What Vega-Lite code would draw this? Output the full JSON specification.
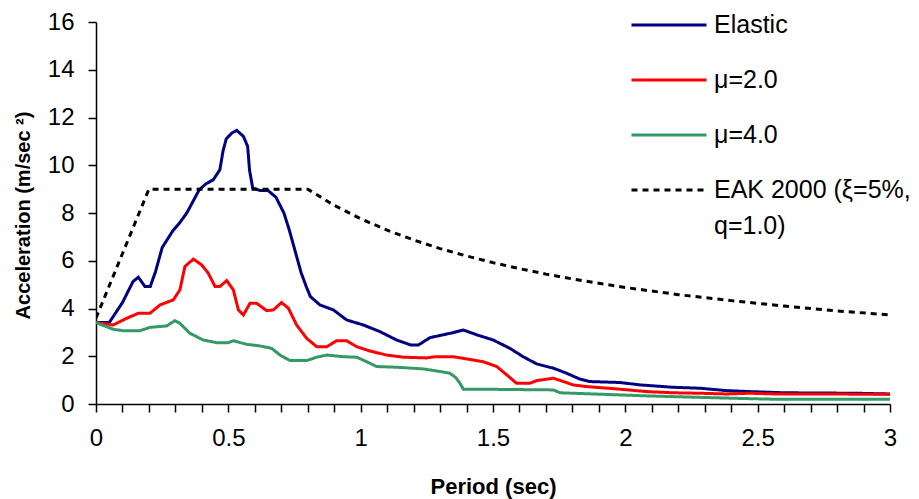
{
  "$schema": "https://vega.github.io/schema/vega-lite/v6.json",
  "width": 794,
  "height": 382,
  "autosize": {"type": "none"},
  "padding": {"left": 96, "top": 22, "right": 29, "bottom": 95},
  "background": "white",
  "config": {
    "view": {"stroke": null},
    "font": "Liberation Sans, Arial, sans-serif",
    "axis": {"domainColor": "black", "tickColor": "black", "labelColor": "black", "titleColor": "black", "grid": false, "domainWidth": 1.5, "tickWidth": 1.5}
  },
  "data": {"values": [
    {"s": "Elastic", "T": 0, "A": 3.41}, {"s": "Elastic", "T": 0.05, "A": 3.41}, {"s": "Elastic", "T": 0.1, "A": 4.25},
    {"s": "Elastic", "T": 0.14, "A": 5.13}, {"s": "Elastic", "T": 0.16, "A": 5.31}, {"s": "Elastic", "T": 0.185, "A": 4.92},
    {"s": "Elastic", "T": 0.205, "A": 4.92}, {"s": "Elastic", "T": 0.225, "A": 5.55}, {"s": "Elastic", "T": 0.25, "A": 6.55},
    {"s": "Elastic", "T": 0.29, "A": 7.25}, {"s": "Elastic", "T": 0.317, "A": 7.6}, {"s": "Elastic", "T": 0.343, "A": 8.0},
    {"s": "Elastic", "T": 0.39, "A": 8.97}, {"s": "Elastic", "T": 0.415, "A": 9.22}, {"s": "Elastic", "T": 0.443, "A": 9.39},
    {"s": "Elastic", "T": 0.468, "A": 9.81}, {"s": "Elastic", "T": 0.48, "A": 10.6}, {"s": "Elastic", "T": 0.492, "A": 11.1},
    {"s": "Elastic", "T": 0.513, "A": 11.35}, {"s": "Elastic", "T": 0.532, "A": 11.46}, {"s": "Elastic", "T": 0.557, "A": 11.21},
    {"s": "Elastic", "T": 0.573, "A": 10.79}, {"s": "Elastic", "T": 0.58, "A": 9.8}, {"s": "Elastic", "T": 0.592, "A": 9.05},
    {"s": "Elastic", "T": 0.62, "A": 8.94}, {"s": "Elastic", "T": 0.65, "A": 8.94}, {"s": "Elastic", "T": 0.68, "A": 8.66},
    {"s": "Elastic", "T": 0.71, "A": 8.0}, {"s": "Elastic", "T": 0.73, "A": 7.3}, {"s": "Elastic", "T": 0.755, "A": 6.3},
    {"s": "Elastic", "T": 0.775, "A": 5.5}, {"s": "Elastic", "T": 0.795, "A": 4.9}, {"s": "Elastic", "T": 0.81, "A": 4.5},
    {"s": "Elastic", "T": 0.846, "A": 4.15}, {"s": "Elastic", "T": 0.897, "A": 3.94}, {"s": "Elastic", "T": 0.947, "A": 3.52},
    {"s": "Elastic", "T": 1.01, "A": 3.31}, {"s": "Elastic", "T": 1.073, "A": 3.03}, {"s": "Elastic", "T": 1.136, "A": 2.68},
    {"s": "Elastic", "T": 1.19, "A": 2.47}, {"s": "Elastic", "T": 1.218, "A": 2.47}, {"s": "Elastic", "T": 1.262, "A": 2.78},
    {"s": "Elastic", "T": 1.3, "A": 2.87}, {"s": "Elastic", "T": 1.35, "A": 2.99}, {"s": "Elastic", "T": 1.388, "A": 3.1},
    {"s": "Elastic", "T": 1.438, "A": 2.9}, {"s": "Elastic", "T": 1.501, "A": 2.68}, {"s": "Elastic", "T": 1.564, "A": 2.33},
    {"s": "Elastic", "T": 1.614, "A": 1.98}, {"s": "Elastic", "T": 1.665, "A": 1.68}, {"s": "Elastic", "T": 1.728, "A": 1.5},
    {"s": "Elastic", "T": 1.778, "A": 1.29}, {"s": "Elastic", "T": 1.829, "A": 1.04}, {"s": "Elastic", "T": 1.866, "A": 0.94},
    {"s": "Elastic", "T": 1.98, "A": 0.9}, {"s": "Elastic", "T": 2.055, "A": 0.8}, {"s": "Elastic", "T": 2.18, "A": 0.7},
    {"s": "Elastic", "T": 2.282, "A": 0.66}, {"s": "Elastic", "T": 2.383, "A": 0.56}, {"s": "Elastic", "T": 2.47, "A": 0.52},
    {"s": "Elastic", "T": 2.6, "A": 0.47}, {"s": "Elastic", "T": 2.874, "A": 0.45}, {"s": "Elastic", "T": 3.0, "A": 0.42},

    {"s": "μ=2.0", "T": 0, "A": 3.41}, {"s": "μ=2.0", "T": 0.065, "A": 3.31}, {"s": "μ=2.0", "T": 0.116, "A": 3.59},
    {"s": "μ=2.0", "T": 0.16, "A": 3.8}, {"s": "μ=2.0", "T": 0.204, "A": 3.8}, {"s": "μ=2.0", "T": 0.242, "A": 4.15},
    {"s": "μ=2.0", "T": 0.292, "A": 4.36}, {"s": "μ=2.0", "T": 0.317, "A": 4.78}, {"s": "μ=2.0", "T": 0.336, "A": 5.76},
    {"s": "μ=2.0", "T": 0.368, "A": 6.07}, {"s": "μ=2.0", "T": 0.399, "A": 5.83}, {"s": "μ=2.0", "T": 0.424, "A": 5.48},
    {"s": "μ=2.0", "T": 0.45, "A": 4.92}, {"s": "μ=2.0", "T": 0.468, "A": 4.92}, {"s": "μ=2.0", "T": 0.494, "A": 5.17},
    {"s": "μ=2.0", "T": 0.519, "A": 4.78}, {"s": "μ=2.0", "T": 0.538, "A": 3.94}, {"s": "μ=2.0", "T": 0.557, "A": 3.73},
    {"s": "μ=2.0", "T": 0.582, "A": 4.22}, {"s": "μ=2.0", "T": 0.607, "A": 4.22}, {"s": "μ=2.0", "T": 0.645, "A": 3.91},
    {"s": "μ=2.0", "T": 0.67, "A": 3.94}, {"s": "μ=2.0", "T": 0.701, "A": 4.25}, {"s": "μ=2.0", "T": 0.727, "A": 4.01},
    {"s": "μ=2.0", "T": 0.758, "A": 3.31}, {"s": "μ=2.0", "T": 0.796, "A": 2.75}, {"s": "μ=2.0", "T": 0.834, "A": 2.4},
    {"s": "μ=2.0", "T": 0.872, "A": 2.4}, {"s": "μ=2.0", "T": 0.909, "A": 2.65}, {"s": "μ=2.0", "T": 0.947, "A": 2.65},
    {"s": "μ=2.0", "T": 0.985, "A": 2.4}, {"s": "μ=2.0", "T": 1.035, "A": 2.22}, {"s": "μ=2.0", "T": 1.098, "A": 2.05},
    {"s": "μ=2.0", "T": 1.161, "A": 1.96}, {"s": "μ=2.0", "T": 1.249, "A": 1.93}, {"s": "μ=2.0", "T": 1.28, "A": 1.98},
    {"s": "μ=2.0", "T": 1.35, "A": 1.98}, {"s": "μ=2.0", "T": 1.4, "A": 1.89}, {"s": "μ=2.0", "T": 1.463, "A": 1.77},
    {"s": "μ=2.0", "T": 1.514, "A": 1.57}, {"s": "μ=2.0", "T": 1.552, "A": 1.22}, {"s": "μ=2.0", "T": 1.589, "A": 0.87},
    {"s": "μ=2.0", "T": 1.64, "A": 0.87}, {"s": "μ=2.0", "T": 1.665, "A": 0.98}, {"s": "μ=2.0", "T": 1.728, "A": 1.08},
    {"s": "μ=2.0", "T": 1.766, "A": 0.94}, {"s": "μ=2.0", "T": 1.803, "A": 0.8}, {"s": "μ=2.0", "T": 1.854, "A": 0.73},
    {"s": "μ=2.0", "T": 1.98, "A": 0.62}, {"s": "μ=2.0", "T": 2.08, "A": 0.52}, {"s": "μ=2.0", "T": 2.18, "A": 0.47},
    {"s": "μ=2.0", "T": 2.282, "A": 0.45}, {"s": "μ=2.0", "T": 2.383, "A": 0.42}, {"s": "μ=2.0", "T": 2.47, "A": 0.45},
    {"s": "μ=2.0", "T": 2.57, "A": 0.42}, {"s": "μ=2.0", "T": 3.0, "A": 0.41},

    {"s": "μ=4.0", "T": 0, "A": 3.41}, {"s": "μ=4.0", "T": 0.065, "A": 3.13}, {"s": "μ=4.0", "T": 0.103, "A": 3.07},
    {"s": "μ=4.0", "T": 0.166, "A": 3.07}, {"s": "μ=4.0", "T": 0.204, "A": 3.21}, {"s": "μ=4.0", "T": 0.267, "A": 3.27},
    {"s": "μ=4.0", "T": 0.298, "A": 3.49}, {"s": "μ=4.0", "T": 0.317, "A": 3.38}, {"s": "μ=4.0", "T": 0.355, "A": 2.96},
    {"s": "μ=4.0", "T": 0.405, "A": 2.68}, {"s": "μ=4.0", "T": 0.456, "A": 2.57}, {"s": "μ=4.0", "T": 0.5, "A": 2.57},
    {"s": "μ=4.0", "T": 0.519, "A": 2.65}, {"s": "μ=4.0", "T": 0.569, "A": 2.5}, {"s": "μ=4.0", "T": 0.62, "A": 2.43},
    {"s": "μ=4.0", "T": 0.664, "A": 2.33}, {"s": "μ=4.0", "T": 0.695, "A": 2.05}, {"s": "μ=4.0", "T": 0.733, "A": 1.82},
    {"s": "μ=4.0", "T": 0.796, "A": 1.82}, {"s": "μ=4.0", "T": 0.834, "A": 1.96}, {"s": "μ=4.0", "T": 0.872, "A": 2.05},
    {"s": "μ=4.0", "T": 0.934, "A": 1.98}, {"s": "μ=4.0", "T": 0.985, "A": 1.96}, {"s": "μ=4.0", "T": 1.023, "A": 1.77},
    {"s": "μ=4.0", "T": 1.06, "A": 1.57}, {"s": "μ=4.0", "T": 1.136, "A": 1.54}, {"s": "μ=4.0", "T": 1.237, "A": 1.47},
    {"s": "μ=4.0", "T": 1.3, "A": 1.36}, {"s": "μ=4.0", "T": 1.337, "A": 1.29}, {"s": "μ=4.0", "T": 1.36, "A": 1.1},
    {"s": "μ=4.0", "T": 1.375, "A": 0.87}, {"s": "μ=4.0", "T": 1.388, "A": 0.62}, {"s": "μ=4.0", "T": 1.451, "A": 0.62},
    {"s": "μ=4.0", "T": 1.728, "A": 0.59}, {"s": "μ=4.0", "T": 1.753, "A": 0.47}, {"s": "μ=4.0", "T": 1.879, "A": 0.42},
    {"s": "μ=4.0", "T": 2.08, "A": 0.34}, {"s": "μ=4.0", "T": 2.41, "A": 0.24}, {"s": "μ=4.0", "T": 2.56, "A": 0.2},
    {"s": "μ=4.0", "T": 3.0, "A": 0.2},

    {"s": "EAK 2000 (ξ=5%, q=1.0)", "T": 0, "A": 3.6}, {"s": "EAK 2000 (ξ=5%, q=1.0)", "T": 0.2, "A": 9.0},
    {"s": "EAK 2000 (ξ=5%, q=1.0)", "T": 0.8, "A": 9.0}, {"s": "EAK 2000 (ξ=5%, q=1.0)", "T": 0.9, "A": 8.32},
    {"s": "EAK 2000 (ξ=5%, q=1.0)", "T": 1.0, "A": 7.76}, {"s": "EAK 2000 (ξ=5%, q=1.0)", "T": 1.1, "A": 7.28},
    {"s": "EAK 2000 (ξ=5%, q=1.0)", "T": 1.2, "A": 6.87}, {"s": "EAK 2000 (ξ=5%, q=1.0)", "T": 1.3, "A": 6.51},
    {"s": "EAK 2000 (ξ=5%, q=1.0)", "T": 1.4, "A": 6.2}, {"s": "EAK 2000 (ξ=5%, q=1.0)", "T": 1.5, "A": 5.92},
    {"s": "EAK 2000 (ξ=5%, q=1.0)", "T": 1.6, "A": 5.67}, {"s": "EAK 2000 (ξ=5%, q=1.0)", "T": 1.7, "A": 5.44},
    {"s": "EAK 2000 (ξ=5%, q=1.0)", "T": 1.8, "A": 5.24}, {"s": "EAK 2000 (ξ=5%, q=1.0)", "T": 1.9, "A": 5.06},
    {"s": "EAK 2000 (ξ=5%, q=1.0)", "T": 2.0, "A": 4.88}, {"s": "EAK 2000 (ξ=5%, q=1.0)", "T": 2.2, "A": 4.58},
    {"s": "EAK 2000 (ξ=5%, q=1.0)", "T": 2.4, "A": 4.33}, {"s": "EAK 2000 (ξ=5%, q=1.0)", "T": 2.6, "A": 4.1},
    {"s": "EAK 2000 (ξ=5%, q=1.0)", "T": 2.8, "A": 3.9}, {"s": "EAK 2000 (ξ=5%, q=1.0)", "T": 3.0, "A": 3.73}
  ]},
  "mark": {"type": "line", "clip": true},
  "encoding": {
    "x": {
      "field": "T", "type": "quantitative",
      "scale": {"domain": [0, 3], "nice": false, "zero": false},
      "axis": {
        "title": "Period (sec)",
        "titleFontSize": 22, "titleFontWeight": "bold",
        "titleX": 397, "titleY": 82, "titleAlign": "center", "titleBaseline": "middle",
        "values": [0, 0.1, 0.2, 0.3, 0.4, 0.5, 0.6, 0.7, 0.8, 0.9, 1, 1.1, 1.2, 1.3, 1.4, 1.5, 1.6, 1.7, 1.8, 1.9, 2, 2.1, 2.2, 2.3, 2.4, 2.5, 2.6, 2.7, 2.8, 2.9, 3],
        "labelExpr": "abs(datum.value * 2 - round(datum.value * 2)) < 0.01 ? format(datum.value, '~g') : ''",
        "labelFontSize": 24, "labelPadding": 14, "tickSize": 8,
        "labelOverlap": false, "labelFlush": false,
        "encode": {
          "ticks": {"update": {
            "y": {"signal": "abs(datum.value * 2 - round(datum.value * 2)) < 0.01 ? -1 : -5"},
            "y2": {"signal": "abs(datum.value * 2 - round(datum.value * 2)) < 0.01 ? 9 : 0"}
          }}
        }
      }
    },
    "y": {
      "field": "A", "type": "quantitative",
      "scale": {"domain": [0, 16], "nice": false},
      "axis": {
        "title": "Acceleration (m/sec ²)",
        "titleFontSize": 20, "titleFontWeight": "bold",
        "titleX": -73, "titleY": 193, "titleAlign": "center", "titleBaseline": "middle", "titleAngle": -90,
        "values": [0, 2, 4, 6, 8, 10, 12, 14, 16],
        "labelFontSize": 24, "labelPadding": 14, "tickSize": 8
      }
    },
    "color": {
      "field": "s", "type": "nominal",
      "scale": {"domain": ["Elastic", "μ=2.0", "μ=4.0", "EAK 2000 (ξ=5%, q=1.0)"], "range": ["#000080", "#ff0000", "#339966", "#000000"]},
      "legend": {
        "title": null, "orient": "none", "legendX": 534, "legendY": -36, "padding": 0,
        "symbolType": "stroke", "symbolSize": 5625, "labelFontSize": 25, "labelColor": "black",
        "labelOffset": 6, "rowPadding": 3, "labelLimit": 400,
        "labelExpr": "datum.label == 'EAK 2000 (ξ=5%, q=1.0)' ? ['EAK 2000 (ξ=5%,', 'q=1.0)'] : datum.label",
        "encode": {"labels": {"update": {"lineHeight": {"value": 36}}}}
      }
    },
    "strokeDash": {
      "field": "s", "type": "nominal",
      "scale": {"domain": ["Elastic", "μ=2.0", "μ=4.0", "EAK 2000 (ξ=5%, q=1.0)"], "range": [[1, 0], [1, 0], [1, 0], [6, 5]]}
    },
    "strokeWidth": {
      "field": "s", "type": "nominal",
      "scale": {"domain": ["Elastic", "μ=2.0", "μ=4.0", "EAK 2000 (ξ=5%, q=1.0)"], "range": [3, 3, 3, 1]}
    }
  }
}
